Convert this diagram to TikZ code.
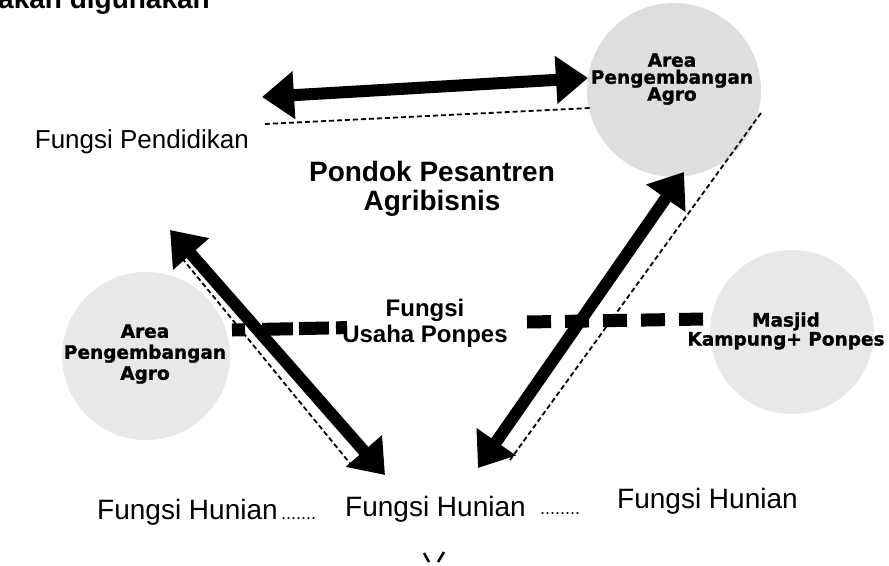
\documentclass[tikz,border=0pt]{standalone}
\usepackage{fontspec}
\setmainfont{Liberation Sans}
\newfontfamily\heavy{DejaVu Sans Bold}[FakeBold=1.3]
\usetikzlibrary{arrows.meta}
\begin{document}
\begin{tikzpicture}[x=1pt,y=-1pt,
  bigarrow/.style={line width=12pt,
    {Triangle[length=32pt 0 0,width=46pt 0 0]}-{Triangle[length=32pt 0 0,width=46pt 0 0]}},
  thindash/.style={line width=1.8pt, dash pattern=on 5pt off 3pt},
  thickdash/.style={line width=13pt, dash pattern=on 24pt off 14pt},
  blob/.style={circle, fill=black!13, draw=none, inner sep=0pt},
  blobtext/.style={font=\heavy\fontsize{18.5}{18}\selectfont, align=center, inner sep=0pt},
  plain/.style={font=\fontsize{28}{30}\selectfont, inner sep=0pt},
  dots/.style={font=\fontsize{18}{20}\selectfont, inner sep=0pt},
  title/.style={font=\bfseries\fontsize{28}{29}\selectfont, align=center, inner sep=0pt},
  usaha/.style={font=\bfseries\fontsize{24}{26}\selectfont, align=center, inner sep=0pt}]
\useasboundingbox (0,0) rectangle (889,565);

% circles
\node[blob, minimum size=174pt] (topc) at (674,90) {};
\node[blob, fill=black!9, minimum size=168pt] (leftc) at (146,356) {};
\node[blob, fill=black!9, minimum size=164pt] (masc) at (792,332) {};

% thick dashed connection, broken by its label
\coordinate (dl) at (232,330);
\coordinate (dlm) at (347,327.6);
\coordinate (drm) at (527,322);
\coordinate (dr) at (705,319);
\draw[thickdash, dash pattern=on 13pt off 17pt on 31pt off 6pt on 30pt off 7pt on 12pt off 10pt] (dl) -- (dlm);
\draw[thickdash] (drm) -- (dr);
\node[usaha] (usaha) at (425,323) {Fungsi\\Usaha Ponpes};

% circle texts
\node[blobtext] (topt) at (672,79) {Area\\[-1pt]Pengembangan\\[-1pt]Agro};
\node[blobtext] (leftt) at (145,354) {Area\\[3pt]Pengembangan\\[3pt]Agro};
\node[blobtext] (mast) at (786,331) {Masjid\\[1pt]Kampung+ Ponpes};

% big double arrows
\coordinate (a1) at (262,97);
\coordinate (a2) at (588,78);
\coordinate (b1) at (170,230);
\coordinate (b2) at (385,475);
\coordinate (c1) at (478,468);
\coordinate (c2) at (684,172);
\draw[bigarrow] (a1) -- (a2);
\draw[bigarrow] (b1) -- (b2);
\draw[bigarrow] (c1) -- (c2);

% thin dashed guides
\coordinate (t1) at (265,124);
\coordinate (t2) at (590,108);
\coordinate (l1) at (177,252);
\coordinate (l2) at (353,467);
\coordinate (r1) at (761,113);
\coordinate (r2) at (510,460);
\draw[thindash] (t1) -- (t2);
\draw[thindash] (l1) -- (l2);
\draw[thindash] (r1) -- (r2);

% texts
\node[font=\bfseries\fontsize{28}{30}\selectfont, anchor=base west, inner sep=0pt] (top) at (-2,8) {akan digunakan};
\node[font=\fontsize{26}{28}\selectfont, inner sep=0pt, anchor=base east] (pend) at (249,148) {Fungsi Pendidikan};
\node[title] (pondok) at (432,189) {Pondok Pesantren\\Agribisnis};

\node[plain, anchor=base west] (h1) at (97,519) {Fungsi Hunian};
\node[dots, anchor=base west] (d1) at (281,519) {.......};
\node[plain, anchor=base west] (h2) at (345,516) {Fungsi Hunian};
\node[dots, anchor=base west] (d2) at (540,514) {........};
\node[plain, anchor=base west] (h3) at (617,508) {Fungsi Hunian};

% small mark at the bottom
\coordinate (v1) at (424,553);
\coordinate (v2) at (429,562);
\coordinate (v3) at (444,552);
\coordinate (v4) at (438,562);
\draw[line width=2.5pt] (v1) -- (v2);
\draw[line width=2.5pt] (v3) -- (v4);
\end{tikzpicture}
\end{document}
